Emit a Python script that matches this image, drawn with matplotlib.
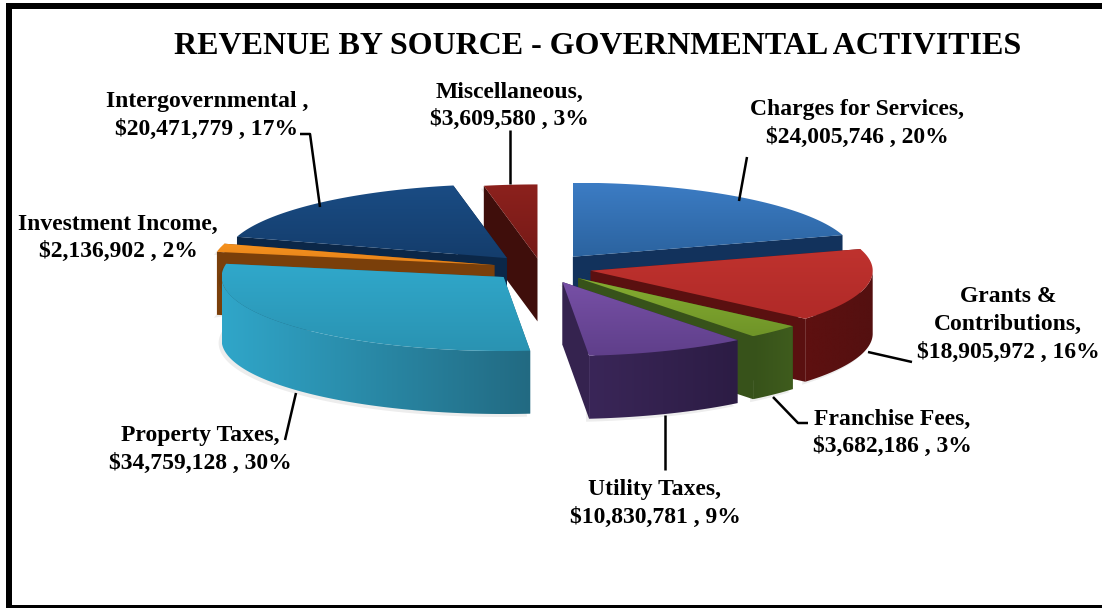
import numpy as np
import matplotlib
matplotlib.use("Agg")
import matplotlib.pyplot as plt
from matplotlib.colors import LinearSegmentedColormap
from matplotlib.patches import Polygon, Rectangle

plt.rcParams["font.family"] = ["Liberation Serif", "DejaVu Serif"]

# revenue sources, clockwise from twelve o'clock
sources = [
    "Charges for Services",
    "Grants &\nContributions",
    "Franchise Fees",
    "Utility Taxes",
    "Property Taxes",
    "Investment Income",
    "Intergovernmental ",
    "Miscellaneous",
]
revenue = [24005746, 18905972, 3682186, 10830781, 34759128, 2136902, 20471779, 3609580]
percents = [20, 16, 3, 9, 30, 2, 17, 3]

# pie layout, in figure pixels
CX, CY = 541, 268
RX, RY = 282, 74
DEPTH = 63
explode = [0.19, 0.18, 0.19, 0.205, 0.18, 0.17, 0.18, 0.13]

top_colors = [
    ("#3c7cc4", "#2b639f"),
    ("#bf322e", "#b02a28"),
    ("#86ad31", "#6f9428"),
    ("#7750a6", "#5f3f8a"),
    ("#30a8cb", "#2a93b2"),
    ("#f6921e", "#e5821a"),
    ("#1a4c84", "#143d6c"),
    ("#8c211d", "#761a17"),
]
cut_colors = ["#12325c", "#5a1010", "#37521a", "#35234f", "#20647c", "#7a3f0a", "#0b2748", "#3f0e0b"]
# rim colours run left to right
rim_colors = [
    ("#12325c", "#12325c"),
    ("#5e1010", "#541010"),
    ("#37521a", "#3f5c1d"),
    ("#3a2658", "#2c1c44"),
    ("#30a6c9", "#226a82"),
    ("#7a3f0a", "#7a3f0a"),
    ("#12325c", "#12325c"),
    ("#3f0e0b", "#3f0e0b"),
]
has_shadow = [False, True, True, True, True, True, False, True]

# painter's order: rear slices first
draw_order = [7, 0, 1, 2, 3, 6, 5, 4]

# text blocks: x centre, y of first line
label_pos = [
    (857, 110), (1008, 297), (892, 419), (655, 490),
    (200, 436), (118, 224), (207, 102), (509, 92),
]
leaders = [
    [(747, 157), (739, 201)],
    [(868, 352), (912, 362)],
    [(773, 397), (798, 423), (808, 423)],
    [(665, 415), (665, 470)],
    [(296, 393), (285, 440)],
    [(300, 134), (310, 134), (320, 207)],
    [(510, 130), (510, 184)],
]


def ring_point(apex, deg):
    t = np.radians(deg)
    return apex[0] + RX * np.sin(t), apex[1] - RY * np.cos(t)


def fill_gradient(ax, pts, c0, c1, horizontal=False, zorder=2):
    """Fill a polygon with a two colour linear gradient."""
    pts = np.asarray(pts)
    cmap = LinearSegmentedColormap.from_list("g", [c0, c1])
    ramp = np.linspace(0, 1, 256).reshape(1, -1) if horizontal else np.linspace(0, 1, 256).reshape(-1, 1)
    box = (pts[:, 0].min(), pts[:, 0].max(), pts[:, 1].max(), pts[:, 1].min())
    im = ax.imshow(ramp, cmap=cmap, extent=box, aspect="auto", zorder=zorder, interpolation="bilinear")
    clip = Polygon(pts, closed=True, transform=ax.transData)
    im.set_clip_path(clip)


def draw_slice(ax, i, start, stop, z):
    mid = np.radians((start + stop) / 2)
    apex = (CX + explode[i] * RX * np.sin(mid), CY - explode[i] * RY * np.cos(mid))
    arc = np.linspace(start, stop, 120)
    ring = np.array([ring_point(apex, a) for a in arc])
    drop = np.array([0, DEPTH])

    # faint contact shadow under the slice
    if has_shadow[i]:
        outline = np.vstack([[apex], ring, ring[::-1] + drop])
        ax.add_patch(Polygon(outline + np.array([-3, 3]), closed=True, fc="#000000", alpha=0.07, ec="none", zorder=z))

    # flat cut faces
    for edge in (ring[0], ring[-1]):
        face = [apex, edge, edge + drop, np.array(apex) + drop]
        ax.add_patch(Polygon(face, closed=True, fc=cut_colors[i], ec="none", zorder=z + 0.1))

    # outer rim, only the part turned towards the viewer
    front = arc[(arc >= 90) & (arc <= 270)]
    if front.size > 1:
        rim = np.array([ring_point(apex, a) for a in front])
        shell = np.vstack([rim, rim[::-1] + drop])
        fill_gradient(ax, shell, rim_colors[i][0], rim_colors[i][1], horizontal=True, zorder=z + 0.2)

    # top surface
    top = np.vstack([[apex], ring])
    fill_gradient(ax, top, top_colors[i][0], top_colors[i][1], zorder=z + 0.3)


fig = plt.figure(figsize=(11.02, 6.08), dpi=100)
ax = fig.add_axes([0, 0, 1, 1])
ax.axis("off")

# heavy outer frame, open on the right
for box in [(6, 3, 1110, 6), (6, 3, 6, 610), (6, 605, 1110, 6)]:
    ax.add_patch(Rectangle(box[:2], box[2], box[3], fc="black", ec="none", zorder=10))

ax.text(598, 46, "REVENUE BY SOURCE - GOVERNMENTAL ACTIVITIES", ha="center", va="center",
        fontsize=23, fontweight="bold", color="black")

sweep = np.cumsum([0] + revenue) / sum(revenue) * 360
for n, i in enumerate(draw_order):
    draw_slice(ax, i, sweep[i], sweep[i + 1], 2 + n)

for path in leaders:
    xs, ys = zip(*path)
    ax.plot(xs, ys, color="black", lw=1.8, solid_capstyle="butt", zorder=12)

for i, name in enumerate(sources):
    x, y = label_pos[i]
    lines = (name + ",").split("\n") + [f"${revenue[i]:,} , {percents[i]}%"]
    for k, line in enumerate(lines):
        ax.text(x, y + k * 27.8, line, ha="center", va="center", fontsize=17,
                fontweight="bold", color="black", zorder=13)

ax.set_xlim(0, 1102)
ax.set_ylim(608, 0)
fig.savefig("out.png", dpi=100, facecolor="white")
